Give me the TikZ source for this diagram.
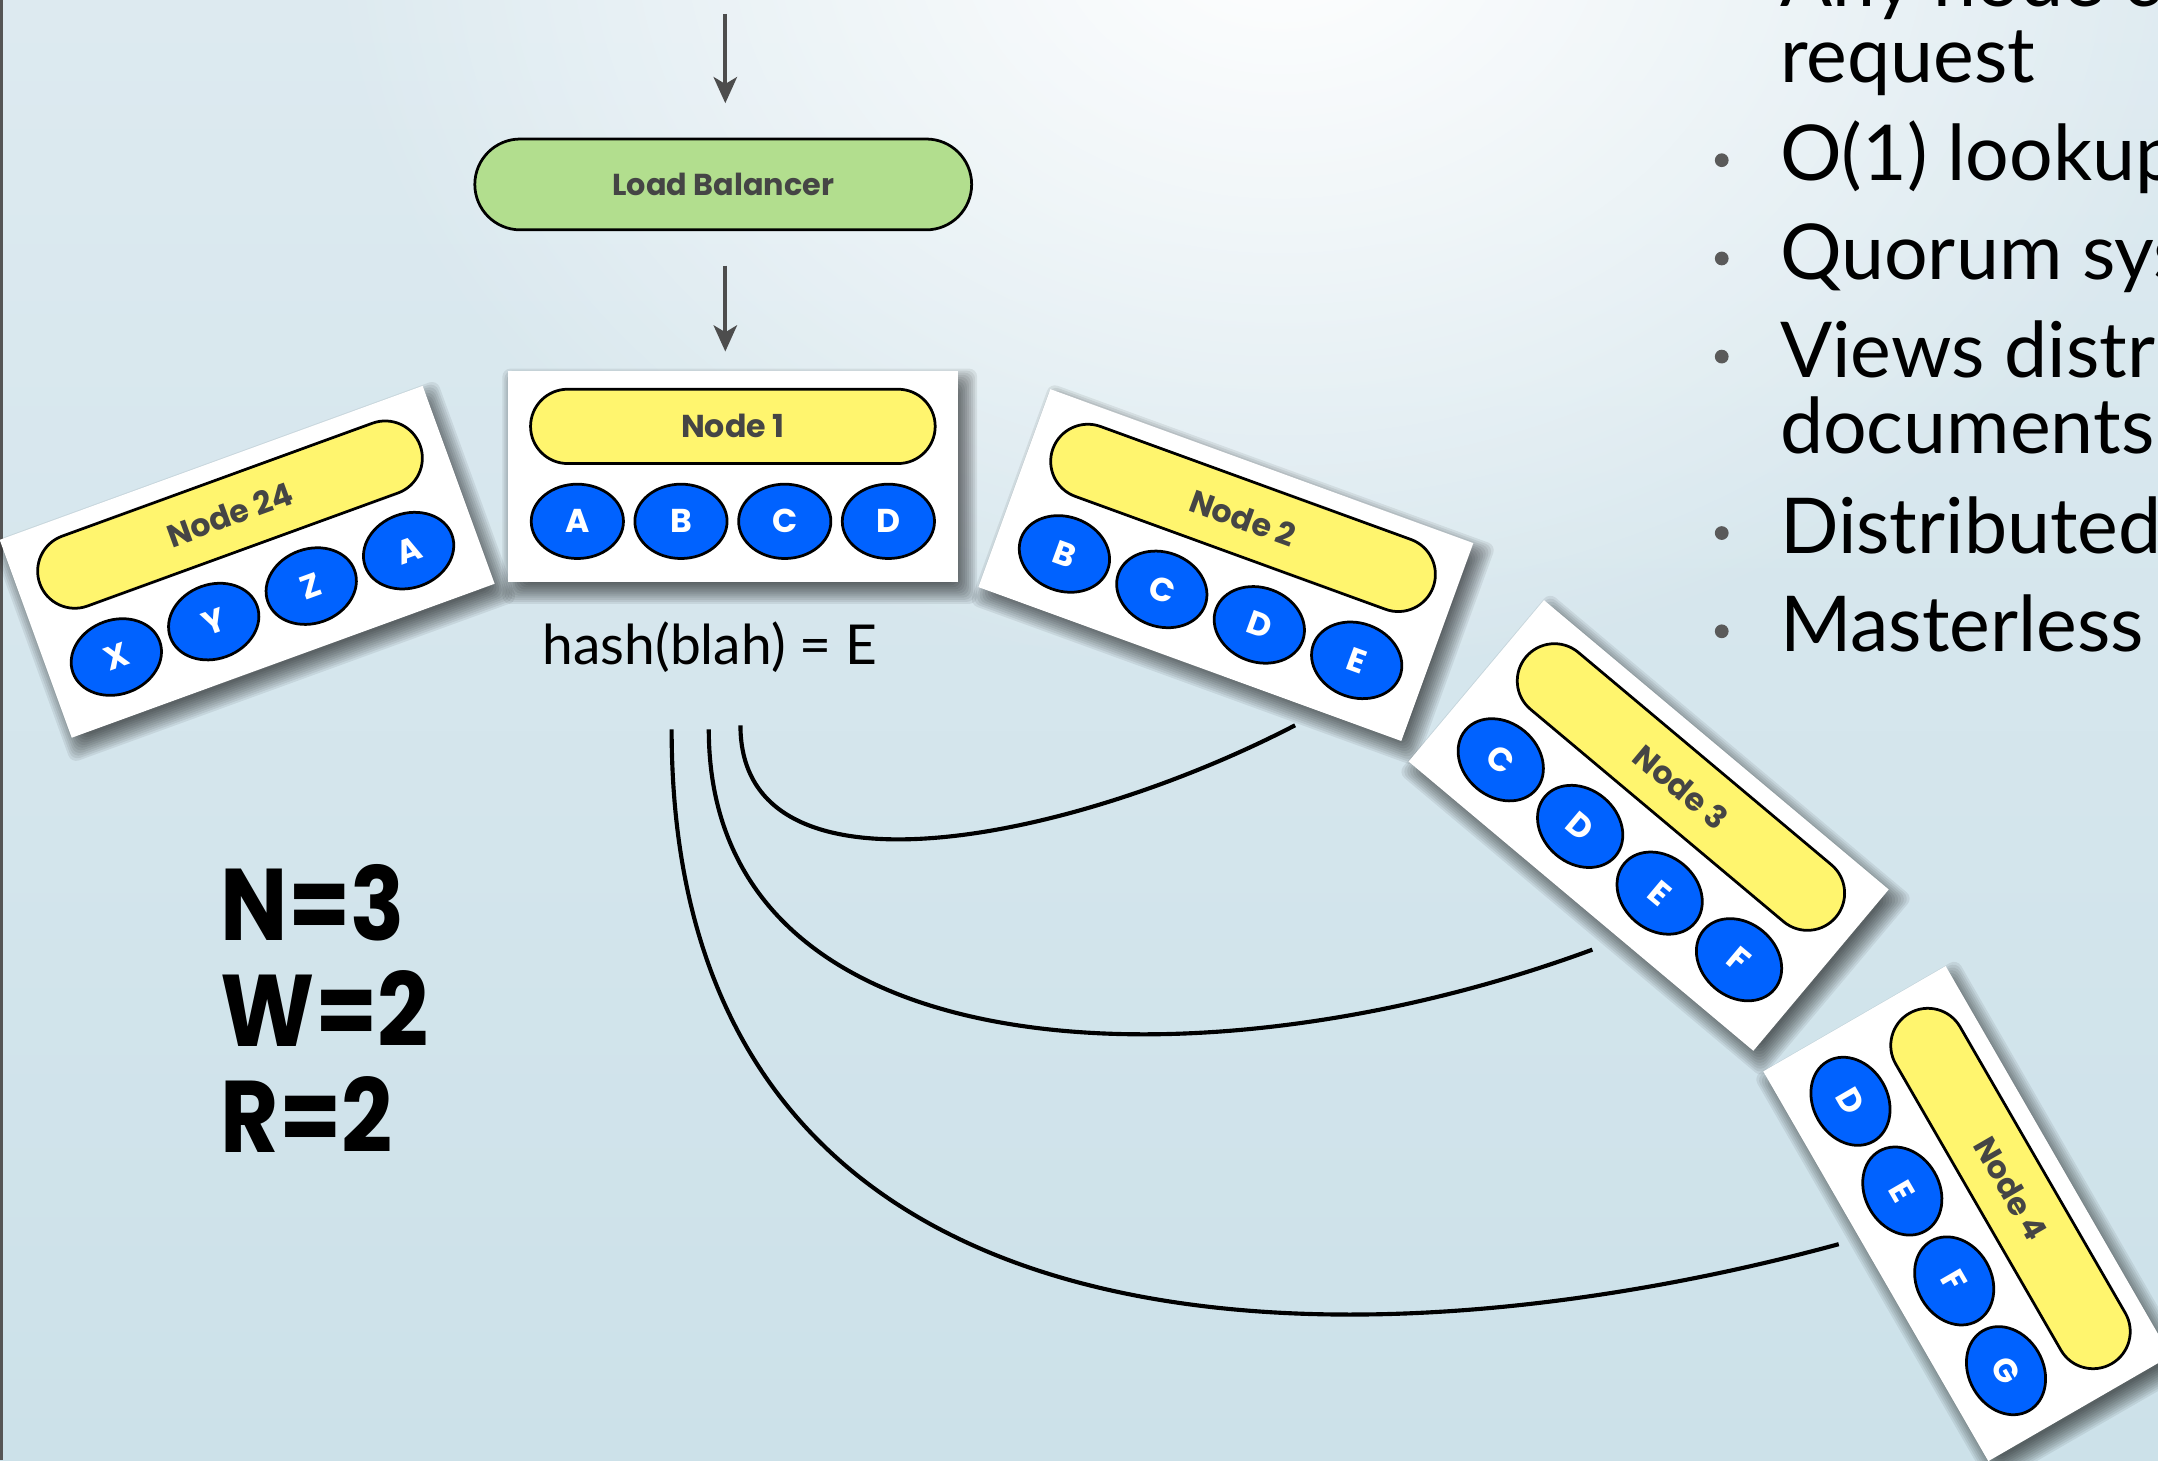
\documentclass[tikz,border=0pt]{standalone}
\usepackage{fontspec}
\setmainfont{Lato}
\newfontfamily\popfont{Poppins}
\newfontfamily\quorumfont{Poppins}[FakeStretch=0.88]
\usetikzlibrary{shapes.misc,shapes.geometric,arrows.meta,fadings}

\definecolor{bgtop}{HTML}{DDEAF0}
\definecolor{bgbot}{HTML}{CCE1E9}
\definecolor{pillyellow}{HTML}{FFF56E}
\definecolor{keyblue}{HTML}{0062FF}
\definecolor{lbgreen}{HTML}{B2DE8E}
\definecolor{labelgray}{HTML}{454545}
\definecolor{arrowgray}{HTML}{4D4D4D}
\definecolor{bulletgray}{HTML}{5A5A5A}
\definecolor{edgegray}{HTML}{555555}

\tikzfading[name=glowfade, inner color=transparent!0, outer color=transparent!100]

\tikzset{
  card/.style={rectangle, fill=white, minimum width=163.5pt, minimum height=76.5pt, inner sep=0pt},
  ringlabel/.style={rounded rectangle, draw=black, line width=1pt, fill=pillyellow,
    minimum width=147pt, minimum height=27pt, inner sep=0pt,
    font=\popfont\bfseries\fontsize{11.5}{13}\selectfont, text=labelgray},
  keyslot/.style={ellipse, draw=black, line width=1pt, fill=keyblue,
    minimum width=33.5pt, minimum height=27pt, inner sep=0pt,
    font=\popfont\bfseries\fontsize{12}{13}\selectfont, text=white},
  balancer/.style={rounded rectangle, draw=black, line width=1pt, fill=lbgreen,
    minimum width=180.5pt, minimum height=33pt, inner sep=0pt,
    font=\popfont\bfseries\fontsize{11}{12}\selectfont, text=labelgray},
  flow/.style={arrowgray, line width=1.4pt, -{Stealth[length=9.5pt,width=8.5pt,inset=2.5pt]}},
  hashlink/.style={black, line width=1.5pt},
  hashtext/.style={anchor=base, inner sep=0pt, font=\fontsize{20}{20}\selectfont},
  quorum/.style={anchor=base west, inner sep=0pt, font=\quorumfont\bfseries\fontsize{37}{37}\selectfont},
  bullettext/.style={anchor=base west, inner sep=0pt, font=\fontsize{28}{28}\selectfont},
  bulletdot/.style={circle, fill=bulletgray, inner sep=0pt, minimum size=5pt},
}

% A storage node card: name, centre x, centre y, angle, label, four keys
\newcommand\drawcard[9]{%
  \begin{scope}[shift={(#2+5,#3+7)}, rotate=#4]
    \foreach \k in {0,...,10}
      \fill[black, opacity=0.07, rounded corners=3pt]
        (-163.5+6-1.5*\k,-76.5+6-1.5*\k) rectangle (163.5-6+1.5*\k,76.5-6+1.5*\k);
  \end{scope}
  \begin{scope}[shift={(#2,#3)}, rotate=#4, transform shape]
    \node[card] (#1) at (0,0) {};
    \node[ringlabel] (#1-label) at (0,-36.5) {#5};
    \node[keyslot] (#1-k1) at (-113,32.5) {#6};
    \node[keyslot] (#1-k2) at (-37.7,32.5) {#7};
    \node[keyslot] (#1-k3) at (37.7,32.5) {#8};
    \node[keyslot] (#1-k4) at (113,32.5) {#9};
  \end{scope}}

\begin{document}
\begin{tikzpicture}[x=0.5pt, y=-0.5pt]
  \useasboundingbox (0,0) rectangle (1568,1061);
  \clip (0,0) rectangle (1568,1061);

  % backdrop
  \fill[top color=bgtop, bottom color=bgbot] (0,0) rectangle (1568,1061);
  \fill[white, path fading=glowfade] (930,-60) ellipse (700 and 560);
  \fill[edgegray] (0,0) rectangle (2.5,1061);

  % request path
  \coordinate (intake) at (527,10);
  \node[balancer] (lb) at (525.5,134) {Load Balancer};

  % replica links
  \coordinate (r1s) at (538,527);
  \coordinate (r1e) at (941,527);
  \coordinate (r2s) at (515,530);
  \coordinate (r2e) at (1157,690);
  \coordinate (r3s) at (488,530);
  \coordinate (r3e) at (1336,904);
  \draw[hashlink] (r1s) .. controls (538,662) and (781,610) .. (r1e);
  \draw[hashlink] (r2s) .. controls (515,782) and (875,794) .. (r2e);
  \draw[hashlink] (r3s) .. controls (488,1012) and (998,996) .. (r3e);

  \node[hashtext] (hash) at (516,483) {hash(blah) = E};

  % ring of nodes
  \drawcard{n24}{179.6}{408.2}{20}{Node 24}{X}{Y}{Z}{A}
  \drawcard{n1}{532.5}{346.3}{0}{Node 1}{A}{B}{C}{D}
  \drawcard{n2}{890.7}{410.6}{-20}{Node 2}{B}{C}{D}{E}
  \drawcard{n3}{1197.9}{599.8}{-40}{Node 3}{C}{D}{E}{F}
  \drawcard{n4}{1429.2}{881.8}{-60}{Node 4}{D}{E}{F}{G}

  \draw[flow, shorten >=12.5pt] (intake) -- (intake |- lb.north);
  \draw[flow, shorten <=12.5pt, shorten >=7pt] (intake |- lb.south) -- (intake |- n1.north);

  % quorum settings
  \node[quorum] (qn) at (160,683.6) {N=3};
  \node[quorum] (qw) at (160,760.6) {W=2};
  \node[quorum] (qr) at (160,837.7) {R=2};

  % feature list
  \node[bullettext] (f0a) at (1293,5) {Any node can handle a};
  \node[bullettext] (f0b) at (1293,60) {request};
  \node[bullettext] (f1) at (1293,131.4) {O(1) lookup};
  \node[bullettext] (f2) at (1293,202.8) {Quorum system};
  \node[bullettext] (f3a) at (1293,274.1) {Views distributed with};
  \node[bullettext] (f3b) at (1293,329.3) {documents};
  \node[bullettext] (f4) at (1293,402.3) {Distributed};
  \node[bullettext] (f5) at (1293,473.7) {Masterless};
  \foreach \y/\n in {116.4/b1, 187.8/b2, 259.1/b3, 387.3/b4, 458.7/b5}
    \node[bulletdot] (\n) at (1251,\y) {};
\end{tikzpicture}
\end{document}
